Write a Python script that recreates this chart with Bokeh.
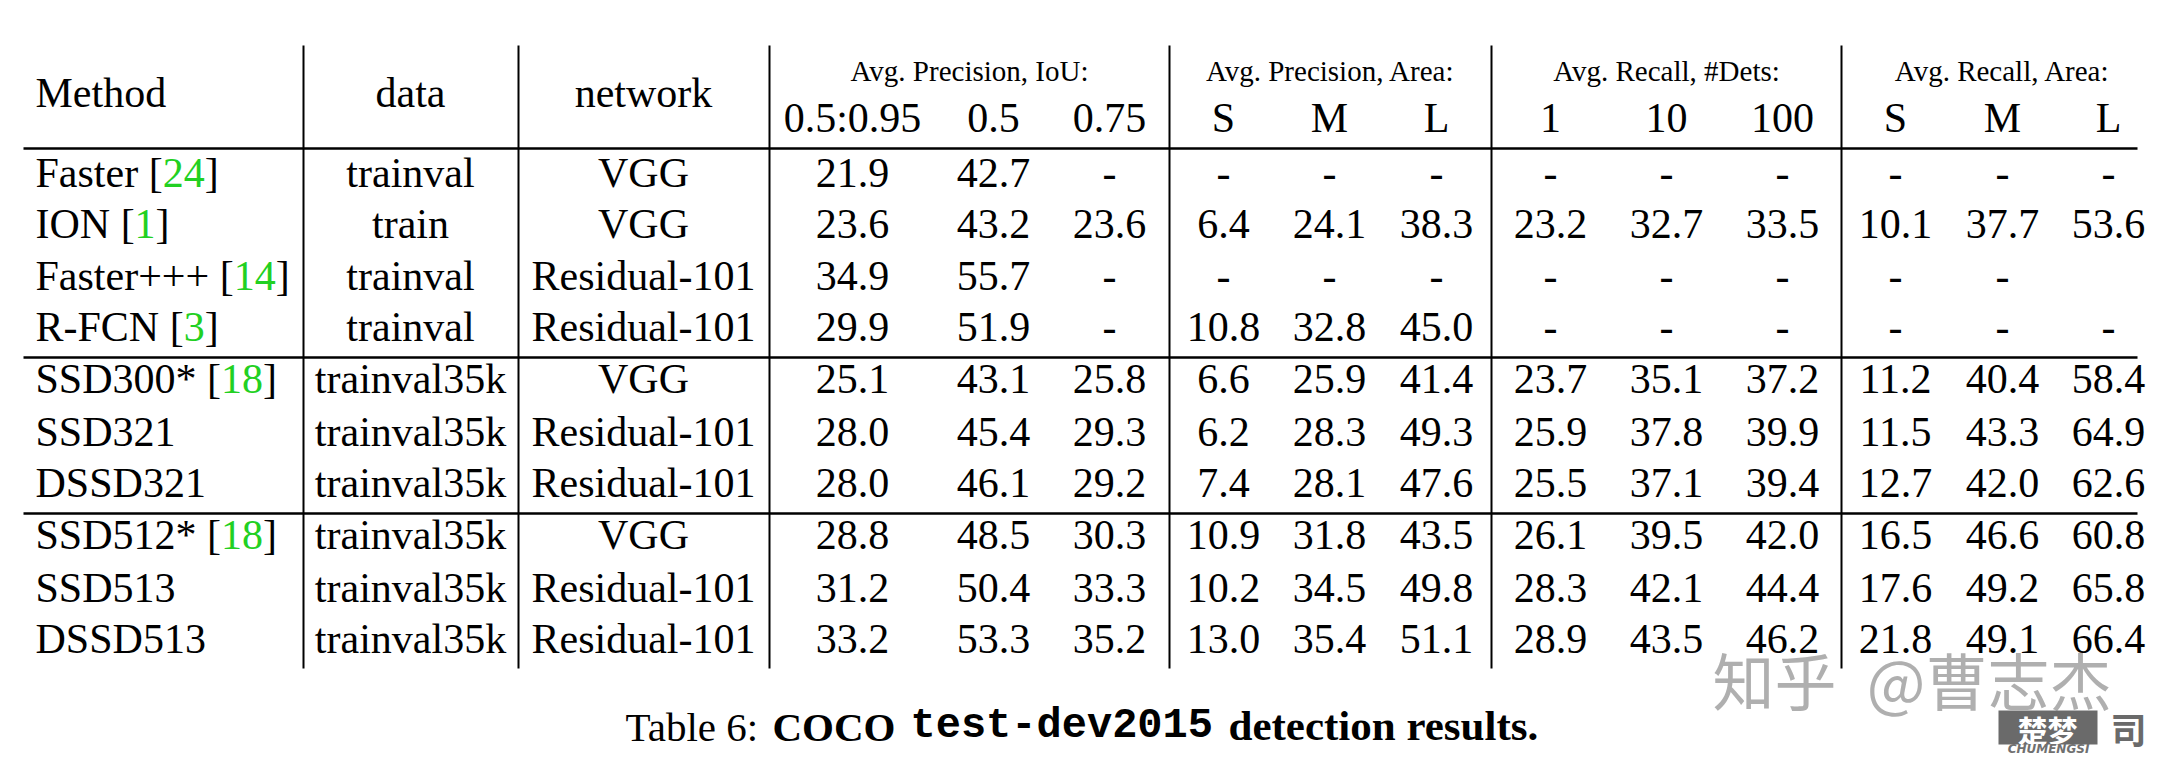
from bokeh.plotting import figure
from bokeh.models import Range1d
from bokeh.core.properties import value
from bokeh.embed import file_html
from bokeh.resources import INLINE

# ---------------- data ----------------
methods = ["Faster", "ION", "Faster+++", "R-FCN", "SSD300*", "SSD321", "DSSD321",
           "SSD512*", "SSD513", "DSSD513"]
refs = ["24", "1", "14", "3", "18", "", "", "18", "", ""]
train_data = ["trainval", "train", "trainval", "trainval", "trainval35k", "trainval35k",
              "trainval35k", "trainval35k", "trainval35k", "trainval35k"]
networks = ["VGG", "VGG", "Residual-101", "Residual-101", "VGG", "Residual-101",
            "Residual-101", "VGG", "Residual-101", "Residual-101"]

ap_50_95 = ["21.9", "23.6", "34.9", "29.9", "25.1", "28.0", "28.0", "28.8", "31.2", "33.2"]
ap_50 = ["42.7", "43.2", "55.7", "51.9", "43.1", "45.4", "46.1", "48.5", "50.4", "53.3"]
ap_75 = ["-", "23.6", "-", "-", "25.8", "29.3", "29.2", "30.3", "33.3", "35.2"]
ap_s = ["-", "6.4", "-", "10.8", "6.6", "6.2", "7.4", "10.9", "10.2", "13.0"]
ap_m = ["-", "24.1", "-", "32.8", "25.9", "28.3", "28.1", "31.8", "34.5", "35.4"]
ap_l = ["-", "38.3", "-", "45.0", "41.4", "49.3", "47.6", "43.5", "49.8", "51.1"]
ar_1 = ["-", "23.2", "-", "-", "23.7", "25.9", "25.5", "26.1", "28.3", "28.9"]
ar_10 = ["-", "32.7", "-", "-", "35.1", "37.8", "37.1", "39.5", "42.1", "43.5"]
ar_100 = ["-", "33.5", "-", "-", "37.2", "39.9", "39.4", "42.0", "44.4", "46.2"]
ar_s = ["-", "10.1", "-", "-", "11.2", "11.5", "12.7", "16.5", "17.6", "21.8"]
ar_m = ["-", "37.7", "-", "-", "40.4", "43.3", "42.0", "46.6", "49.2", "49.1"]
ar_l = ["-", "53.6", "", "-", "58.4", "64.9", "62.6", "60.8", "65.8", "66.4"]

group_titles = ["Avg. Precision, IoU:", "Avg. Precision, Area:", "Avg. Recall, #Dets:",
                "Avg. Recall, Area:"]
sub_headers = ["0.5:0.95", "0.5", "0.75", "S", "M", "L", "1", "10", "100", "S", "M", "L"]
col_headers = ["Method", "data", "network"]
caption_parts = ["Table 6:", "COCO", "test-dev2015", "detection results."]

# ---------------- layout ----------------
W, H = 2152, 760
SERIF = "Liberation Serif"
BODY = 42
GREEN = "#22d022"
BASE_SHIFT = 0.34  # fraction of font size: rendered baseline sits this far below y

p = figure(width=W, height=H, output_backend="svg", toolbar_location=None,
           x_range=Range1d(0, W), y_range=Range1d(H, 0),
           x_axis_type=None, y_axis_type=None, min_border=0,
           min_border_left=0, min_border_right=0, min_border_top=0, min_border_bottom=0)
p.grid.visible = False
p.outline_line_color = None
p.background_fill_color = "white"
p.border_fill_color = "white"

row_base = [187, 238, 290, 341, 393, 446, 497, 549, 602, 653]
num_cols_x = [852, 993, 1109, 1223, 1329, 1436, 1550, 1666, 1782, 1895, 2002, 2108]
group_x = [969, 1330, 1666, 2002]
vlines_x = [303, 518, 769, 1169, 1491, 1841]

# Times metrics (per 1000 em) for measuring mixed-colour pieces
TW = {" ": 250, "[": 333, "]": 333, "*": 500, "+": 564, "-": 333, "C": 667, "D": 722,
      "F": 556, "I": 333, "N": 722, "O": 722, "R": 667, "S": 556, "a": 444, "e": 444,
      "r": 333, "s": 389, "t": 278, "T": 611, "b": 500, "l": 278, ":": 278}
for d in "0123456789":
    TW[d] = 500


def tw(s, size, table=TW):
    return sum(table.get(c, 500) for c in s) / 1000.0 * size


def ypos(baseline, size):
    return baseline - BASE_SHIFT * size


def txt(x, base, s, size=BODY, align="center", color="black", font=SERIF, style="normal",
        alpha=1.0):
    p.text(x=[x], y=[ypos(base, size)], text=[s], text_font=value(font),
           text_font_size=f"{size}px", text_align=align, text_baseline="alphabetic",
           text_color=color, text_font_style=style, text_alpha=alpha)


# rules
p.segment(x0=vlines_x, y0=[45] * len(vlines_x), x1=vlines_x, y1=[668] * len(vlines_x),
          line_color="black", line_width=2)
p.segment(x0=[23] * 3, y0=[148, 357, 513], x1=[2137] * 3, y1=[148, 357, 513],
          line_color="black", line_width=2.4)

# header
txt(35, 107, col_headers[0], align="left")
txt(410, 107, col_headers[1])
txt(643, 107, col_headers[2])
for gx, gt in zip(group_x, group_titles):
    txt(gx, 80, gt, size=29)
for cx, sh in zip(num_cols_x, sub_headers):
    txt(cx, 132, sh)

# body
x0 = 35
for i, m in enumerate(methods):
    b = row_base[i]
    if refs[i]:
        pre = m + " ["
        txt(x0, b, pre, align="left")
        txt(x0 + tw(pre, BODY), b, refs[i], align="left", color=GREEN)
        txt(x0 + tw(pre + refs[i], BODY), b, "]", align="left")
    else:
        txt(x0, b, m, align="left")
    txt(410, b, train_data[i])
    txt(643, b, networks[i])

cols = [ap_50_95, ap_50, ap_75, ap_s, ap_m, ap_l, ar_1, ar_10, ar_100, ar_s, ar_m, ar_l]
row_y = [ypos(b, BODY) for b in row_base]
for cx, col in zip(num_cols_x, cols):
    p.text(x=[cx] * len(col), y=row_y, text=col, text_font=value(SERIF),
           text_font_size=f"{BODY}px", text_align="center", text_baseline="alphabetic",
           text_color="black")

# caption (piece start positions)
cb = 740
cap_x = [625, 772, 910, 1228]
txt(cap_x[0], cb, caption_parts[0], size=41, align="left")
txt(cap_x[1], cb, caption_parts[1], size=41, align="left", style="bold")
txt(cap_x[2], cb, caption_parts[2], size=42, align="left", style="bold",
    font="Liberation Mono")
txt(cap_x[3], cb, caption_parts[3], size=43, align="left", style="bold")

# watermark
txt(1712, 700, "知乎", size=62, align="left", color="#a6a6a6", font="Noto Sans CJK SC",
    alpha=0.9)
txt(2111, 700, "@曹志杰", size=62, align="right", color="#a6a6a6", font="Noto Sans CJK SC",
    alpha=0.9)
p.quad(left=[1998], right=[2097], top=[710], bottom=[744], fill_color="#6a6a6a",
       line_color=None)
txt(2047, 739, "楚梦", size=30, color="white", font="Noto Sans CJK SC", style="bold")
txt(2128, 740, "司", size=36, color="#6a6a6a", font="Noto Sans CJK SC", style="bold")
txt(2048, 753, "CHUMENGSI", size=12, color="#707070", font="DejaVu Sans",
    style="bold italic")

open("out.html", "w").write(file_html(p, INLINE))
